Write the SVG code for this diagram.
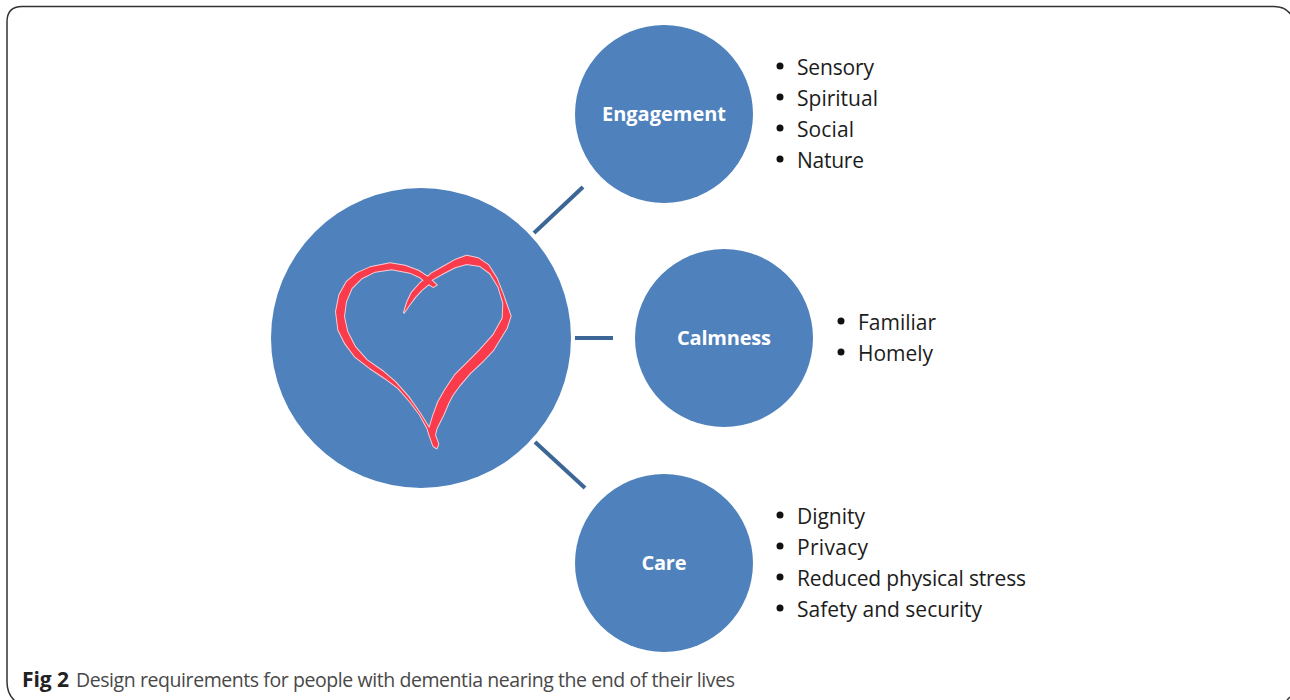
<svg xmlns="http://www.w3.org/2000/svg" width="1290" height="700" viewBox="0 0 1290 700">
<style>
.n{fill:#4f81bd}
.c{stroke:#3c6696;stroke-width:4;fill:none}
.h{font:bold 20px "Open Sans","Liberation Sans",sans-serif;fill:#fff;text-anchor:middle}
.t{font:21px "Open Sans","Liberation Sans",sans-serif;fill:#1c1c1c}
.b{fill:#111}
.cap{font:19.500px "Open Sans","Liberation Sans",sans-serif;fill:#484848}
.capb{font:bold 21px "Open Sans","Liberation Sans",sans-serif;fill:#222}
.f{fill:none;stroke:#333;stroke-width:1.500}
</style>
<defs>
<filter id="rough" x="-5%" y="-5%" width="110%" height="110%">
<feTurbulence type="fractalNoise" baseFrequency="0.4" numOctaves="2" seed="4" result="noise"/>
<feGaussianBlur in="SourceGraphic" stdDeviation="0.450" result="soft"/>
<feDisplacementMap in="soft" in2="noise" scale="1.200" xChannelSelector="R" yChannelSelector="G"/>
</filter>
</defs>
<rect width="1290" height="700" fill="#fff"/>
<path class="f" d="M1292 16 Q1286 6.500 1274 6.500 L22 6.500 Q7 6.500 7 22 L7 682 Q7 694 15 701"/>
<path class="f" d="M1287 700 L1290 697"/>
<g id="connectors">
<line class="c" x1="534" y1="233" x2="583" y2="187"/>
<line class="c" x1="575" y1="338" x2="613" y2="338"/>
<line class="c" x1="535" y1="442" x2="585" y2="488"/>
</g>
<g id="center">
<circle class="n" cx="421" cy="338" r="150"/>
<g filter="url(#rough)">
<path transform="translate(320 240) scale(.3333)" fill="#fa3a4b" stroke="#f6ccd4" stroke-width="6" paint-order="stroke" stroke-linejoin="round" d="M252 218L262 185L275 158L300 130L322 112L335 100L370 80L405 60L440 47L475 55L505 75L530 115L548 160L562 200L572 228L560 265L535 305L520 330L490 362L450 400L420 435L398 465L385 490L370 525L350 565L345 585L355 612L350 625L340 618L330 590L322 565L300 525L270 485L235 445L195 415L150 385L105 350L75 310L55 270L48 215L58 165L80 125L110 100L150 82L210 70L255 77L295 92L325 112L350 135L340 141L320 128L300 112L270 98L215 88L165 95L125 115L95 145L78 185L72 230L82 275L105 320L140 360L190 395L225 425L265 470L300 520L328 565L340 525L355 485L375 450L405 405L445 365L480 330L520 285L548 235L550 190L535 140L510 100L480 78L440 72L405 82L370 100L335 120L332 128L305 150L285 172L268 195Z"/>
</g>
</g>
<g id="engagement">
<circle class="n" cx="664" cy="114" r="89"/>
<text class="h" x="664" y="121" textLength="124">Engagement</text>
<circle class="b" cx="780" cy="66" r="3.500"/><text class="t" x="797" y="75" textLength="77">Sensory</text>
<circle class="b" cx="780" cy="97" r="3.500"/><text class="t" x="797" y="106" textLength="81">Spiritual</text>
<circle class="b" cx="780" cy="128" r="3.500"/><text class="t" x="797" y="137" textLength="57">Social</text>
<circle class="b" cx="780" cy="159" r="3.500"/><text class="t" x="797" y="168" textLength="67">Nature</text>
</g>
<g id="calmness">
<circle class="n" cx="724" cy="338" r="89"/>
<text class="h" x="724" y="345" textLength="94">Calmness</text>
<circle class="b" cx="841" cy="321" r="3.500"/><text class="t" x="858" y="330" textLength="78">Familiar</text>
<circle class="b" cx="841" cy="352" r="3.500"/><text class="t" x="858" y="361" textLength="75">Homely</text>
</g>
<g id="care">
<circle class="n" cx="664" cy="563" r="89"/>
<text class="h" x="664" y="570" textLength="45">Care</text>
<circle class="b" cx="780" cy="515" r="3.500"/><text class="t" x="797" y="524" textLength="68">Dignity</text>
<circle class="b" cx="780" cy="546" r="3.500"/><text class="t" x="797" y="555" textLength="71">Privacy</text>
<circle class="b" cx="780" cy="577" r="3.500"/><text class="t" x="797" y="586" textLength="229">Reduced physical stress</text>
<circle class="b" cx="780" cy="608" r="3.500"/><text class="t" x="797" y="617" textLength="185">Safety and security</text>
</g>
<text class="capb" x="22" y="687" textLength="47">Fig 2</text>
<text class="cap" x="76" y="687" textLength="659">Design requirements for people with dementia nearing the end of their lives</text>
</svg>
